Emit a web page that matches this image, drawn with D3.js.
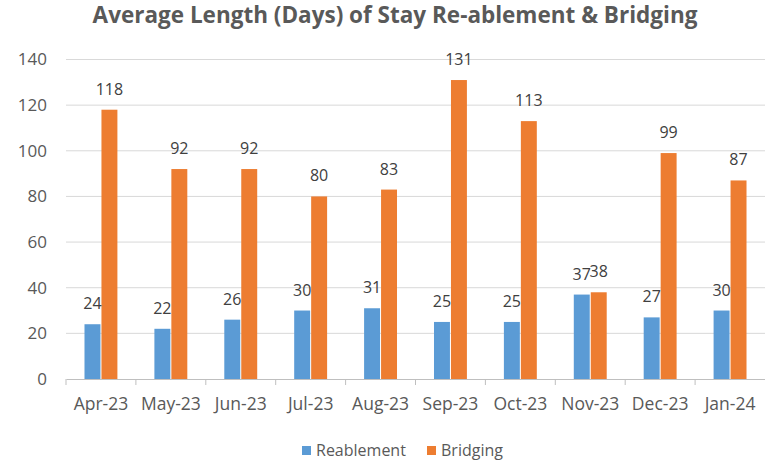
<!DOCTYPE html>
<html>
<head>
<meta charset="utf-8">
<script src="https://cdn.jsdelivr.net/npm/d3@7"></script>
<style>
  body { margin: 0; background: #fff; }
  svg { display: block; font-family: "Open Sans", sans-serif; }
</style>
</head>
<body>
<div id="chart"></div>
<script>
// chart data
const months = ["Apr-23", "May-23", "Jun-23", "Jul-23", "Aug-23", "Sep-23", "Oct-23", "Nov-23", "Dec-23", "Jan-24"];
const reablement = [24, 22, 26, 30, 31, 25, 25, 37, 27, 30];
const bridging = [118, 92, 92, 80, 83, 131, 113, 38, 99, 87];
const seriesNames = ["Reablement", "Bridging"];
const yTicks = [0, 20, 40, 60, 80, 100, 120, 140];

const colors = { Reablement: "#5b9bd5", Bridging: "#ed7d31" };

const W = 765, H = 464;
const m = { top: 59.5, left: 66, right: 0, bottom: 85 };
const pw = W - m.left - m.right, ph = H - m.top - m.bottom;

const rows = months.map((mo, i) => ({ month: mo, Reablement: reablement[i], Bridging: bridging[i] }));

const svg = d3.select("#chart").append("svg")
    .attr("width", W)
    .attr("height", H);

svg.append("text")
    .attr("x", 395)
    .attr("y", 23)
    .attr("text-anchor", "middle")
    .attr("font-size", 22.5)
    .attr("font-weight", "bold")
    .attr("fill", "#595959")
    .text("Average Length (Days) of Stay Re-ablement & Bridging");

const g = svg.append("g").attr("transform", `translate(${m.left},${m.top})`);

const x0 = d3.scaleBand().domain(months).range([0, pw]).paddingInner(0.5).paddingOuter(0.25);
const x1 = d3.scaleBand().domain(seriesNames).range([0, x0.bandwidth()]).padding(0.06);
const y = d3.scaleLinear().domain([0, 140]).range([ph, 0]);

// gridlines
g.append("g")
    .selectAll("line")
    .data(yTicks.filter(t => t > 0))
    .join("line")
    .attr("x1", 0)
    .attr("x2", pw)
    .attr("y1", d => y(d))
    .attr("y2", d => y(d))
    .attr("stroke", "#d9d9d9")
    .attr("stroke-width", 1);

// y axis labels
const yAxis = d3.axisLeft(y).tickValues(yTicks).tickSize(0).tickPadding(19);
g.append("g")
    .call(yAxis)
    .call(a => a.select(".domain").remove())
    .selectAll("text")
    .attr("font-size", 17)
    .attr("font-family", "Open Sans")
    .attr("fill", "#595959");

// bars
const groups = g.append("g")
    .selectAll("g")
    .data(rows)
    .join("g")
    .attr("transform", d => `translate(${x0(d.month)},0)`);

groups.selectAll("rect")
    .data(d => seriesNames.map(k => ({ key: k, value: d[k] })))
    .join("rect")
    .attr("x", d => x1(d.key))
    .attr("y", d => y(d.value))
    .attr("width", x1.bandwidth())
    .attr("height", d => ph - y(d.value))
    .attr("fill", d => colors[d.key]);

groups.selectAll("text")
    .data(d => seriesNames.map(k => ({ key: k, value: d[k] })))
    .join("text")
    .attr("x", d => x1(d.key) + x1.bandwidth() / 2)
    .attr("y", d => y(d.value) - 15)
    .attr("text-anchor", "middle")
    .attr("font-size", 16)
    .attr("fill", "#404040")
    .text(d => d.value);

// x axis
const xAxis = d3.axisBottom(x0).tickSize(0).tickPadding(19);
const xa = g.append("g")
    .attr("transform", `translate(0,${ph})`)
    .call(xAxis);
xa.select(".domain").attr("stroke", "#bfbfbf");
xa.selectAll("text")
    .attr("font-size", 17.5)
    .attr("font-family", "Open Sans")
    .attr("fill", "#595959");

// category boundary ticks
xa.append("g")
    .selectAll("line")
    .data(months)
    .join("line")
    .attr("x1", d => x0(d) - x0.step() * 0.25)
    .attr("x2", d => x0(d) - x0.step() * 0.25)
    .attr("y1", 0)
    .attr("y2", 6)
    .attr("stroke", "#bfbfbf");

// legend
const legend = svg.append("g").attr("transform", `translate(302,456)`);
const li = legend.selectAll("g")
    .data(seriesNames)
    .join("g")
    .attr("transform", (d, i) => `translate(${i * 125},0)`);
li.append("rect")
    .attr("x", 0)
    .attr("y", -10)
    .attr("width", 9)
    .attr("height", 9)
    .attr("fill", d => colors[d]);
li.append("text")
    .attr("x", 14)
    .attr("y", 0)
    .attr("font-size", 16)
    .attr("fill", "#595959")
    .text(d => d);
</script>
</body>
</html>
